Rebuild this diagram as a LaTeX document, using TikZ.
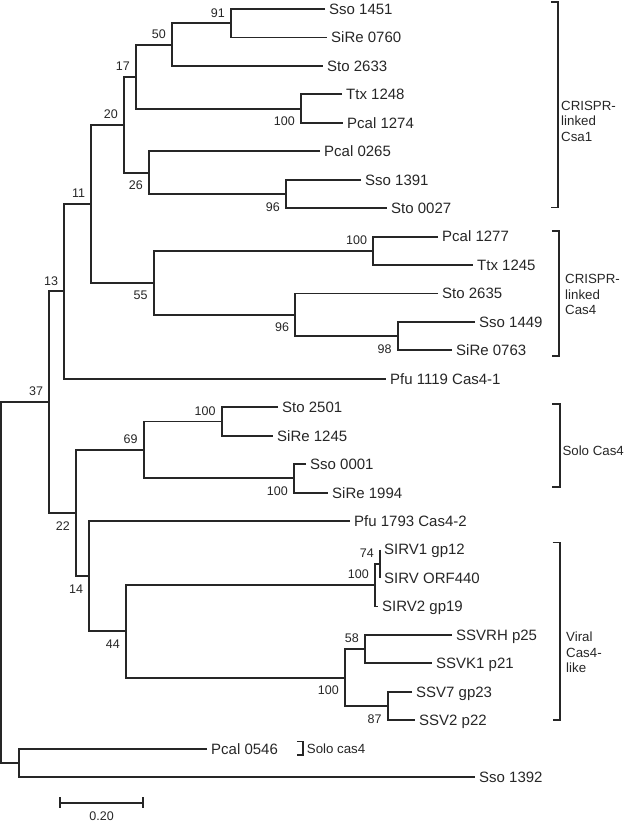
\documentclass[tikz,border=0pt]{standalone}
\usepackage{fontspec}
\setmainfont{Liberation Sans}
\usepackage{xcolor}
\usepackage{tikz}
\usetikzlibrary{positioning,calc}

\begin{document}
\begin{tikzpicture}[
  x=1pt, y=-28.45pt,
  br/.style={draw=black!85, line width=1.9pt},
  brk/.style={draw=black!85, line width=1.8pt},
  leaf/.style={anchor=west, inner xsep=4pt, inner ysep=0pt, text=black!85,
               text height=10.7pt, text depth=0pt, font=\fontsize{15}{18}\selectfont},
  boot/.style={inner sep=0pt, text=black!85, text height=8.9pt, text depth=0pt,
               font=\fontsize{12.5}{15}\selectfont},
  bsu/.style={boot, anchor=south east, xshift=-6pt, yshift=6pt},
  bsl/.style={boot, anchor=north east, xshift=-6pt, yshift=-8pt},
  grp/.style={anchor=west, align=left, inner sep=0pt, text=black!85,
              font=\fontsize{13.3}{15.6}\selectfont},
]
\useasboundingbox (0,-0.3163) rectangle (626,28.6467);

% --- Leaves (row = taxon index) ---
\node[leaf] (sso1451)  at (325,0)  {Sso 1451};
\node[leaf] (sire0760) at (327,1)  {SiRe 0760};
\node[leaf] (sto2633)  at (323,2)  {Sto 2633};
\node[leaf] (ttx1248)  at (342,3)  {Ttx 1248};
\node[leaf] (pcal1274) at (343,4)  {Pcal 1274};
\node[leaf] (pcal0265) at (320,5)  {Pcal 0265};
\node[leaf] (sso1391)  at (361,6)  {Sso 1391};
\node[leaf] (sto0027)  at (387,7)  {Sto 0027};
\node[leaf] (pcal1277) at (438,8)  {Pcal 1277};
\node[leaf] (ttx1245)  at (473,9)  {Ttx 1245};
\node[leaf] (sto2635)  at (438,10) {Sto 2635};
\node[leaf] (sso1449)  at (475,11) {Sso 1449};
\node[leaf] (sire0763) at (452,12) {SiRe 0763};
\node[leaf] (pfu1119)  at (386,13) {Pfu 1119 Cas4-1};
\node[leaf] (sto2501)  at (278,14) {Sto 2501};
\node[leaf] (sire1245) at (273,15) {SiRe 1245};
\node[leaf] (sso0001)  at (306,16) {Sso 0001};
\node[leaf] (sire1994) at (328,17) {SiRe 1994};
\node[leaf] (pfu1793)  at (350,18) {Pfu 1793 Cas4-2};
\node[leaf] (sirv1)    at (380,19) {SIRV1 gp12};
\node[leaf] (sirvorf)  at (380,20) {SIRV ORF440};
\node[leaf] (sirv2)    at (378,21) {SIRV2 gp19};
\node[leaf] (ssvrh)    at (452,22) {SSVRH p25};
\node[leaf] (ssvk1)    at (432,23) {SSVK1 p21};
\node[leaf] (ssv7)     at (412,24) {SSV7 gp23};
\node[leaf] (ssv2)     at (415,25) {SSV2 p22};
\node[leaf] (pcal0546) at (207,26) {Pcal 0546};
\node[leaf] (sso1392)  at (475,27) {Sso 1392};

% --- Internal nodes ---
\coordinate (n91)      at (231,0.5);
\coordinate (n50)      at (172,1.25);
\coordinate (n100tp)   at (301,3.5);
\coordinate (n17)      at (136,2.375);
\coordinate (n96ss)    at (286,6.5);
\coordinate (n26)      at (149,5.75);
\coordinate (n20)      at (124,4.0625);
\coordinate (n100pt)   at (373.3,8.5);
\coordinate (n98)      at (397.7,11.5);
\coordinate (n96st)    at (295.3,10.75);
\coordinate (n55)      at (153.7,9.625);
\coordinate (n11)      at (91.3,6.84375);
\coordinate (n13)      at (64.3,9.921875);
\coordinate (n100ss)   at (221.7,14.5);
\coordinate (n100so)   at (294,16.5);
\coordinate (n69)      at (143.7,15.5);
\coordinate (n74)      at (380,19.5);
\coordinate (n100sirv) at (375,20.25);
\coordinate (n58)      at (365,22.5);
\coordinate (n87)      at (387.7,24.5);
\coordinate (n100ssv)  at (345,23.5);
\coordinate (n44)      at (126,21.875);
\coordinate (n14)      at (89.3,19.9375);
\coordinate (n22)      at (76,17.71875);
\coordinate (n37)      at (49.3,13.8203);
\coordinate (nout)     at (19.3,26.5);
\coordinate (root)     at (1.3,20.16);

% --- Branches ---
\draw[br] (sso1451.west) -| (n91) |- (sire0760.west);
\draw[br] (n91) -| (n50) |- (sto2633.west);
\draw[br] (ttx1248.west) -| (n100tp) |- (pcal1274.west);
\draw[br] (n50) -| (n17) |- (n100tp);
\draw[br] (sso1391.west) -| (n96ss) |- (sto0027.west);
\draw[br] (pcal0265.west) -| (n26) |- (n96ss);
\draw[br] (n17) -| (n20) |- (n26);
\draw[br] (pcal1277.west) -| (n100pt) |- (ttx1245.west);
\draw[br] (sso1449.west) -| (n98) |- (sire0763.west);
\draw[br] (sto2635.west) -| (n96st) |- (n98);
\draw[br] (n100pt) -| (n55) |- (n96st);
\draw[br] (n20) -| (n11) |- (n55);
\draw[br] (n11) -| (n13) |- (pfu1119.west);
\draw[br] (sto2501.west) -| (n100ss) |- (sire1245.west);
\draw[br] (sso0001.west) -| (n100so) |- (sire1994.west);
\draw[br] (n100ss) -| (n69) |- (n100so);
\draw[br] (sirv1.west) -| (n74) |- (sirvorf.west);
\draw[br] (n74) -| (n100sirv) |- (sirv2.west);
\draw[br] (ssvrh.west) -| (n58) |- (ssvk1.west);
\draw[br] (ssv7.west) -| (n87) |- (ssv2.west);
\draw[br] (n58) -| (n100ssv) |- (n87);
\draw[br] (n100sirv) -| (n44) |- (n100ssv);
\draw[br] (pfu1793.west) -| (n14) |- (n44);
\draw[br] (n69) -| (n22) |- (n14);
\draw[br] (n13) -| (n37) |- (n22);
\draw[br] (pcal0546.west) -| (nout) |- (sso1392.west);
\draw[br] (n37) -| (root) |- (nout);

% --- Bootstrap values ---
\node[bsu] (b91)      at (n91)      {91};
\node[bsu] (b50)      at (n50)      {50};
\node[bsu] (b17)      at (n17)      {17};
\node[bsu] (b20)      at (n20)      {20};
\node[bsu] (b11)      at (n11)      {11};
\node[bsu] (b13)      at (n13)      {13};
\node[bsu] (b37)      at (n37)      {37};
\node[bsl] (b100tp)   at (n100tp)   {100};
\node[bsl] (b26)      at (n26)      {26};
\node[bsl] (b96ss)    at (n96ss)    {96};
\node[bsl] (b55)      at (n55)      {55};
\node[bsu] (b100pt)   at (n100pt)   {100};
\node[bsl] (b96st)    at (n96st)    {96};
\node[bsl] (b98)      at (n98)      {98};
\node[bsu] (b69)      at (n69)      {69};
\node[bsu] (b100ss)   at (n100ss)   {100};
\node[bsl] (b100so)   at (n100so)   {100};
\node[bsl] (b22)      at (n22)      {22};
\node[bsl] (b14)      at (n14)      {14};
\node[bsl] (b44)      at (n44)      {44};
\node[bsu] (b100sirv) at (n100sirv) {100};
\node[bsu] (b74)      at (n74)      {74};
\node[bsl] (b100ssv)  at (n100ssv)  {100};
\node[bsu] (b58)      at (n58)      {58};
\node[bsl] (b87)      at (n87)      {87};

% --- Group brackets ---
\coordinate (csaT) at (558.3,-0.25);  \coordinate (csaB) at (558.3,6.98);
\coordinate (casT) at (559.3,7.79);   \coordinate (casB) at (559.3,12.2);
\coordinate (solT) at (560,13.88);    \coordinate (solB) at (560,16.79);
\coordinate (virT) at (560,18.75);    \coordinate (virB) at (560,24.99);
\coordinate (pcsT) at (303.3,25.75);  \coordinate (pcsB) at (303.3,26.22);
\draw[brk] ([xshift=-7.5pt]csaT) -- (csaT) -- (csaB) -- ([xshift=-7.5pt]csaB);
\draw[brk] ([xshift=-7.5pt]casT) -- (casT) -- (casB) -- ([xshift=-7.5pt]casB);
\draw[brk] ([xshift=-8pt]solT) -- (solT) -- (solB) -- ([xshift=-8pt]solB);
\draw[brk] ([xshift=-7.5pt]virT) -- (virT) -- (virB) -- ([xshift=-7.5pt]virB);
\draw[brk] ([xshift=-6.5pt]pcsT) -- (pcsT) -- (pcsB) -- ([xshift=-6.5pt]pcsB);

\node[grp] (gcsa) at (561,3.947)  {CRISPR-\\linked\\Csa1};
\node[grp] (gcas) at (565,10.04)  {CRISPR-\\linked\\Cas4};
\node[grp] (gsol) at (562.3,15.54) {Solo Cas4};
\node[grp] (gvir) at (566,22.61)  {Viral\\Cas4-\\like};
\node[grp] (gpcs) at (306.7,26)   {Solo cas4};

% --- Scale bar ---
\coordinate (sbl) at (60,27.9);
\coordinate (sbr) at (143.3,27.9);
\draw[br] (sbl) -- (sbr);
\draw[br] ([yshift=5.5pt]sbl) -- ([yshift=-5.5pt]sbl);
\draw[br] ([yshift=5.5pt]sbr) -- ([yshift=-5.5pt]sbr);
\node[boot, anchor=north, yshift=-8.5pt] (sblab) at ($(sbl)!0.5!(sbr)$) {0.20};

\end{tikzpicture}
\end{document}
